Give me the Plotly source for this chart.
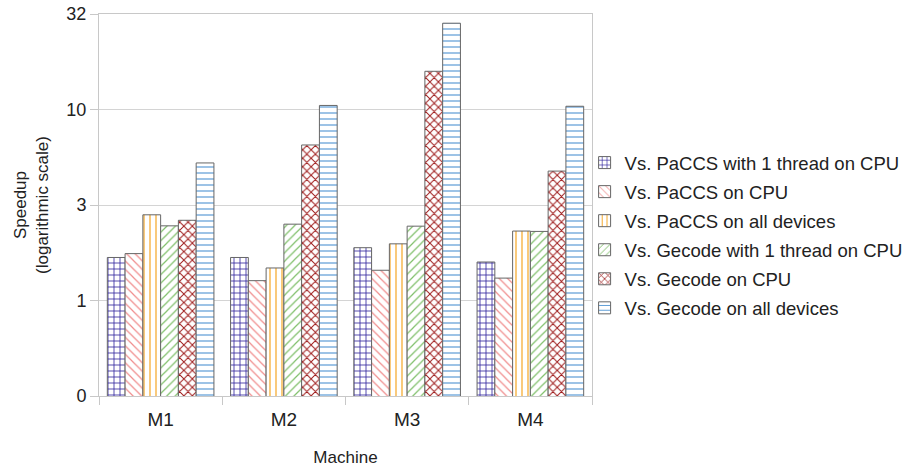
import plotly.graph_objects as go

machines = ["M1", "M2", "M3", "M4"]
series_names = [
    "Vs. PaCCS with 1 thread on CPU",
    "Vs. PaCCS on CPU",
    "Vs. PaCCS on all devices",
    "Vs. Gecode with 1 thread on CPU",
    "Vs. Gecode on CPU",
    "Vs. Gecode on all devices",
]
paccs_1thread = [1.68, 1.68, 1.89, 1.59]
paccs_cpu = [1.76, 1.27, 1.44, 1.31]
paccs_all = [2.81, 1.48, 1.98, 2.31]
gecode_1thread = [2.46, 2.51, 2.45, 2.30]
gecode_cpu = [2.63, 6.52, 15.85, 4.76]
gecode_all = [5.25, 10.5, 28.3, 10.4]

tick_vals = [10 ** -0.5, 1, 10 ** 0.5, 10, 10 ** 1.5]
tick_text = ["0", "1", "3", "10", "32"]

series_values = [paccs_1thread, paccs_cpu, paccs_all, gecode_1thread, gecode_cpu, gecode_all]
colors = ["#2c1f9a", "#f08c8c", "#f5a623", "#7fbf6a", "#9e1a1a", "#5b9bd5"]
shapes = ["+", "\\", "|", "/", "x", "-"]
solid = [0.25, 0.2, 0.2, 0.2, 0.3, 0.2]

fig = go.Figure()
for i, (name, vals) in enumerate(zip(series_names, series_values)):
    fig.add_trace(go.Bar(
        x=machines, y=vals, name=name,
        legendgroup=str(i),
        marker=dict(
            color="white",
            line=dict(color="#666666", width=1),
            pattern=dict(shape=shapes[i], fgcolor=colors[i], bgcolor="white",
                         size=6, solidity=solid[i], fillmode="replace"),
        ),
    ))

fig.update_layout(
    width=920, height=467,
    margin=dict(l=99, r=328, t=14, b=71),
    paper_bgcolor="white", plot_bgcolor="white",
    barmode="group", bargap=0.135, bargroupgap=0,
    font=dict(family="Liberation Sans, Arial, sans-serif", size=18, color="#222222"),
    legend=dict(x=0.985, xanchor="left", y=0.42, yanchor="middle",
                traceorder="grouped", tracegroupgap=2,
                font=dict(size=18.5), bgcolor="rgba(0,0,0,0)"),
    showlegend=True,
)
fig.update_xaxes(
    title=dict(text="Machine", font=dict(size=17), standoff=22),
    showline=True, linecolor="#c8c8c8", mirror=True, automargin=False,
    ticks="outside", tickson="boundaries", ticklen=8, tickcolor="#c8c8c8",
    ticklabelstandoff=6,
    tickfont=dict(size=19),
)
fig.update_yaxes(
    type="log", range=[-0.5, 1.5],
    tickvals=tick_vals, ticktext=tick_text,
    title=dict(text="Speedup<br>(logarithmic scale)", font=dict(size=17), standoff=13),
    showline=True, linecolor="#c8c8c8", mirror=True, automargin=False,
    showgrid=True, gridcolor="#d4d4d4", gridwidth=1,
    ticks="outside", ticklen=8, tickcolor="#c8c8c8",
    tickfont=dict(size=18), zeroline=False,
)

fig.write_html("out.html", config={"displayModeBar": False},
               post_script="document.body.style.margin='0';")
